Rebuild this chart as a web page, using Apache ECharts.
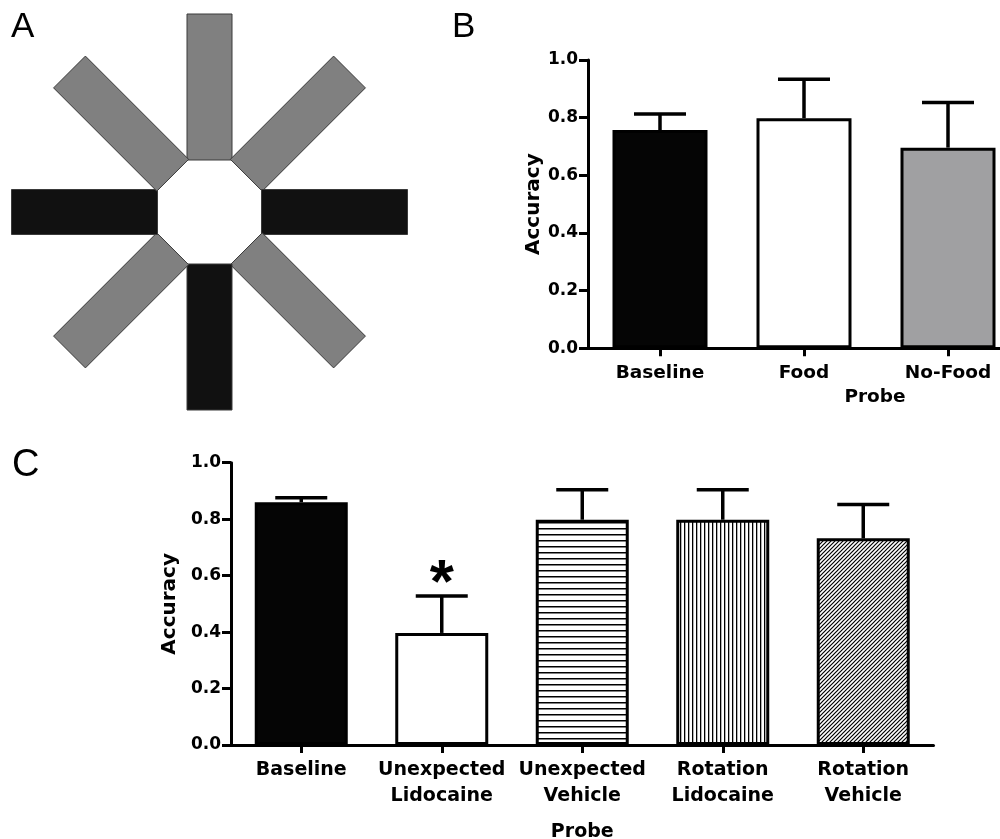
<!DOCTYPE html>
<html><head><meta charset="utf-8">
<script src="https://cdn.jsdelivr.net/npm/echarts@6/dist/echarts.min.js"></script>
<style>html,body{margin:0;padding:0;background:#fff}#c{width:1000px;height:839px}</style>
</head><body><div id="c"></div>
<script>
// ---- Panel A: radial maze, arm colours clockwise from north ----
const armColors = ['#808080','#808080','#111111','#808080','#111111','#808080','#111111','#808080'];
// ---- Panel B ----
const catsB = ['Baseline','Food','No-Food'];
const meanB = [0.757, 0.798, 0.696];
const semB  = [0.056, 0.135, 0.157];
// ---- Panel C ----
const catsC = ['Baseline','Unexpected\nLidocaine','Unexpected\nVehicle','Rotation\nLidocaine','Rotation\nVehicle'];
const meanC = [0.860, 0.397, 0.798, 0.798, 0.732];
const semC  = [0.016, 0.131, 0.106, 0.106, 0.120];
const sigC  = ['', '*', '', '', ''];
// ---- Axis ----
const yMin = 0, yMax = 1, yStep = 0.2;
const panelLetters = ['A','B','C'];

function makePattern(kind){
  const c = document.createElement('canvas');
  const s = kind === 'h' ? 6 : 4;
  c.width = s; c.height = s;
  const g = c.getContext('2d');
  g.fillStyle = '#fff'; g.fillRect(0,0,s,s);
  g.fillStyle = '#000'; g.strokeStyle = '#000';
  if (kind === 'h') { g.fillRect(0, 0, s, 1.5); }
  else if (kind === 'v') { g.fillRect(0, 0, 1.3, s); }
  else {
    g.lineWidth = 1.2;
    g.beginPath();
    g.moveTo(-1, s+1); g.lineTo(s+1, -1);
    g.moveTo(-1, 1); g.lineTo(1, -1);
    g.moveTo(s-1, s+1); g.lineTo(s+1, s-1);
    g.stroke();
  }
  return {image: c, repeat: 'repeat'};
}
const fillB = ['#050505', '#ffffff', '#a0a0a2'];
const fillC = ['#050505', '#ffffff', makePattern('h'), makePattern('v'), makePattern('d')];

const FONT = 'DejaVu Sans';
const txt = {fontFamily: FONT, fontWeight: 'bold', color: '#000'};

function yAxis(gi){
  return {
    type: 'value', gridIndex: gi, min: yMin, max: yMax, interval: yStep,
    axisLine: {show: true, lineStyle: {color: '#000', width: 3}},
    axisTick: {show: true, length: 9, lineStyle: {color: '#000', width: 3}},
    splitLine: {show: false},
    axisLabel: Object.assign({formatter: v => v.toFixed(1), fontSize: 17, margin: 10}, txt),
    name: 'Accuracy', nameLocation: 'middle', nameGap: 44,
    nameTextStyle: Object.assign({fontSize: 20}, txt)
  };
}
function xAxis(gi, cats, fs, nameGap, namePad){
  return {
    type: 'category', gridIndex: gi, data: cats,
    axisLine: {show: true, lineStyle: {color: '#000', width: 3}},
    axisTick: {show: true, alignWithLabel: true, length: 8, lineStyle: {color: '#000', width: 3}},
    axisLabel: Object.assign({fontSize: fs, margin: 12, lineHeight: 26, interval: 0}, txt),
    name: 'Probe', nameLocation: 'middle', nameGap: nameGap,
    nameTextStyle: Object.assign({fontSize: fs, padding: namePad}, txt)
  };
}
function errRender(sig){
  return function(params, api){
    const x = api.value(0), m = api.value(1), e = api.value(2);
    const p0 = api.coord([x, m]);
    const p1 = api.coord([x, m + e]);
    const st = {stroke: '#000', lineWidth: 3.5};
    const ch = [
      {type: 'line', shape: {x1: p0[0], y1: p0[1], x2: p1[0], y2: p1[1]}, style: st},
      {type: 'line', shape: {x1: p1[0]-26, y1: p1[1], x2: p1[0]+26, y2: p1[1]}, style: st}
    ];
    if (sig && sig[params.dataIndex]) {
      ch.push({type: 'text', x: p1[0], y: p1[1] + 20,
        style: {text: sig[params.dataIndex], fontFamily: 'Liberation Sans', fontWeight: 'bold', fontSize: 62,
          fill: '#000', align: 'center', verticalAlign: 'bottom'}});
    }
    return {type: 'group', children: ch};
  };
}

const chart = echarts.init(document.getElementById('c'), null, {renderer: 'canvas'});
chart.setOption({
  animation: false,
  backgroundColor: '#fff',
  grid: [
    {left: 9.5, top: 12, width: 400, height: 400, outerBoundsMode: 'none', containLabel: false},
    {left: 588, top: 60, width: 432, height: 288.3, outerBoundsMode: 'none', containLabel: false},
    {left: 231, top: 462.7, width: 702.5, height: 282.3, outerBoundsMode: 'none', containLabel: false}
  ],
  xAxis: [
    {type: 'value', gridIndex: 0, min: -200, max: 200, show: false},
    xAxis(1, catsB, 18.5, 36, [0, 0, 0, 142]),
    xAxis(2, catsC, 19, 78, 0)
  ],
  yAxis: [
    {type: 'value', gridIndex: 0, min: -200, max: 200, show: false},
    yAxis(1), yAxis(2)
  ],
  graphic: [
    {type: 'text', left: 11, top: 10, style: {text: panelLetters[0], fontFamily: 'Liberation Sans', fontSize: 35, fill: '#000'}},
    {type: 'text', left: 452, top: 10, style: {text: panelLetters[1], fontFamily: 'Liberation Sans', fontSize: 35, fill: '#000'}},
    {type: 'text', left: 12, top: 447, style: {text: panelLetters[2], fontFamily: 'Liberation Sans', fontSize: 38, fill: '#000'}}
  ],
  series: [
    {
      type: 'custom', xAxisIndex: 0, yAxisIndex: 0,
      data: armColors.map((c, i) => [i]),
      renderItem: function(params, api){
        const i = api.value(0);
        const th = i * Math.PI / 4;
        const dx = Math.sin(th), dy = Math.cos(th);
        const px = Math.cos(th), py = -Math.sin(th);
        const ri = 52, ro = 198, hw = 22.5;
        const pts = [
          [dx*ri + px*hw, dy*ri + py*hw],
          [dx*ro + px*hw, dy*ro + py*hw],
          [dx*ro - px*hw, dy*ro - py*hw],
          [dx*ri - px*hw, dy*ri - py*hw]
        ].map(p => api.coord(p));
        return {type: 'polygon', shape: {points: pts},
          style: {fill: armColors[i], stroke: '#3a3a3a', lineWidth: 1}};
      }
    },
    {
      type: 'bar', xAxisIndex: 1, yAxisIndex: 1, barWidth: 95,
      data: meanB.map((v, i) => ({value: v, itemStyle: {color: fillB[i], borderColor: '#000', borderWidth: 3}})),
      z: 2
    },
    {
      type: 'custom', xAxisIndex: 1, yAxisIndex: 1, z: 3,
      data: meanB.map((m, i) => [i, m, semB[i]]),
      encode: {x: 0, y: 1},
      renderItem: errRender(null)
    },
    {
      type: 'bar', xAxisIndex: 2, yAxisIndex: 2, barWidth: 93,
      data: meanC.map((v, i) => ({value: v, itemStyle: {color: fillC[i], borderColor: '#000', borderWidth: 3}})),
      z: 2
    },
    {
      type: 'custom', xAxisIndex: 2, yAxisIndex: 2, z: 3,
      data: meanC.map((m, i) => [i, m, semC[i]]),
      encode: {x: 0, y: 1},
      renderItem: errRender(sigC)
    }
  ]
});
</script></body></html>
